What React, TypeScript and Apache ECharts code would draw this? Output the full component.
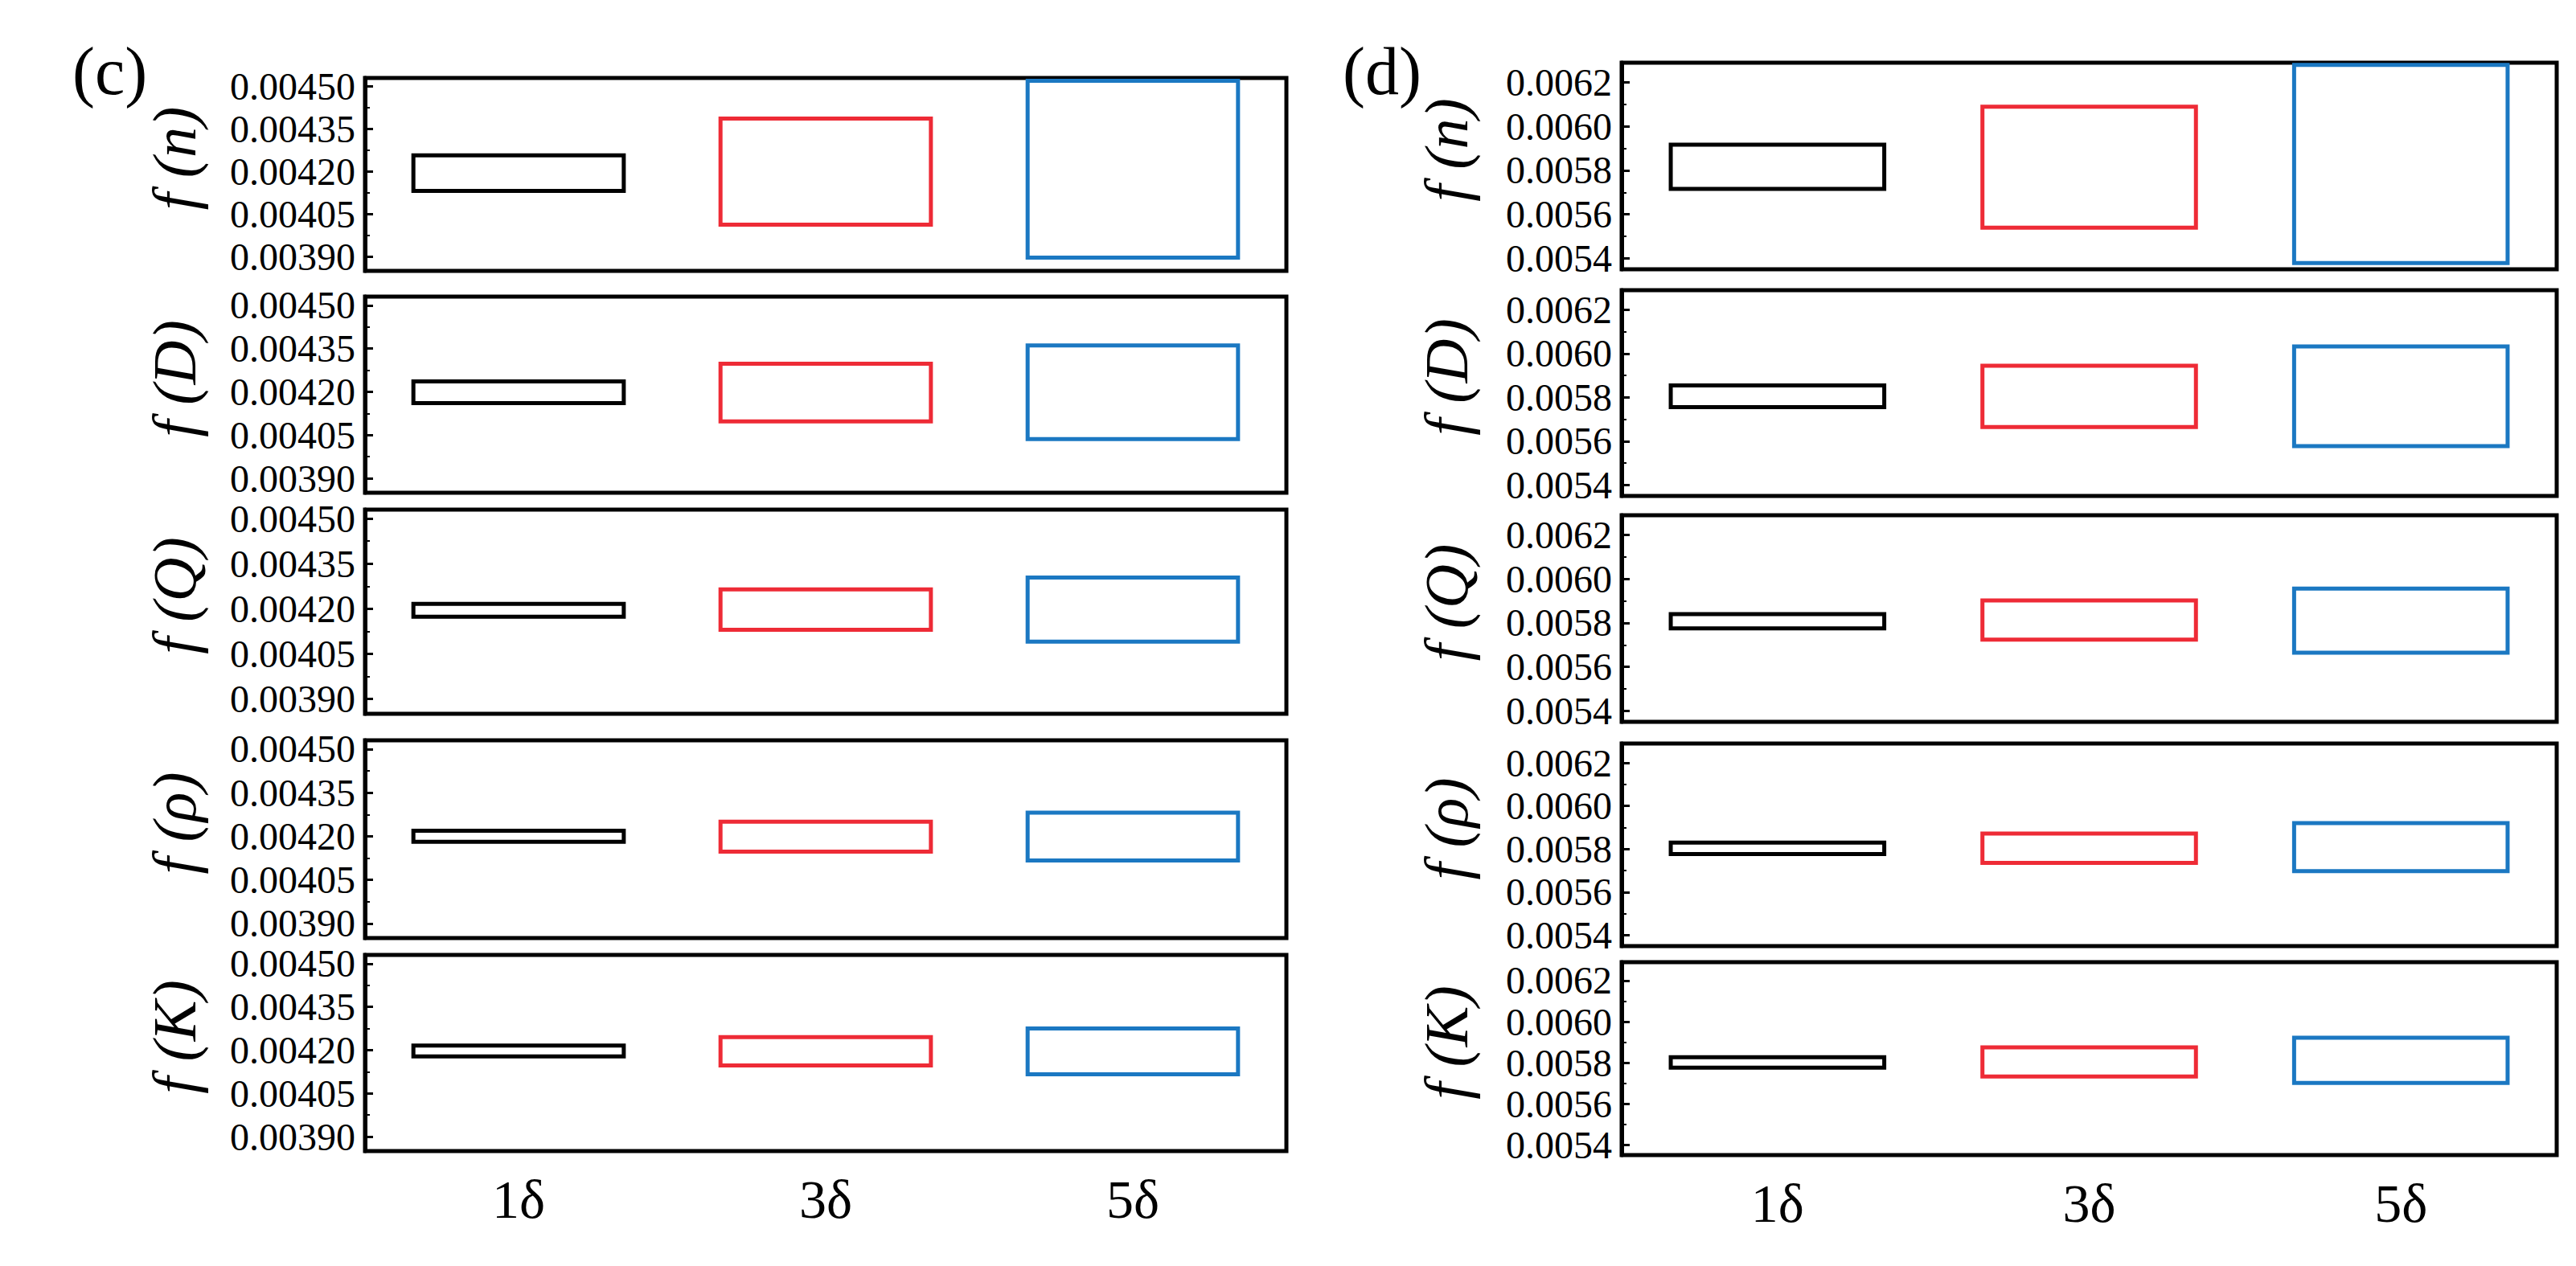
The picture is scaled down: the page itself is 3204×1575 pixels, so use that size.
import React, { useEffect, useRef } from 'react';
import * as echarts from 'echarts';

const categories = ['1δ', '3δ', '5δ'];
const boxColors = ['#000000', '#ee2b36', '#1b78c2'];
const rowSymbols = ['n', 'D', 'Q', 'ρ', 'K'];
const panelLabels = ['(c)', '(d)'];

// y-axis tick labels
const cTickValues = [0.0039, 0.00405, 0.0042, 0.00435, 0.0045];
const cMinorTickValues = [0.003975, 0.004125, 0.004275, 0.004425];
const dTickValues = [0.0054, 0.0056, 0.0058, 0.006, 0.0062];
const dMinorTickValues = [0.0055, 0.0057, 0.0059, 0.0061];
const cRange = [0.00385, 0.00453];
const dRange = [0.00535, 0.00629];

// panel (c): lower / upper bounds per category (1δ, 3δ, 5δ)
const cN_low = [0.004132, 0.004013, 0.003897];
const cN_high = [0.004257, 0.004387, 0.00452];
const cD_low = [0.004161, 0.004097, 0.004036];
const cD_high = [0.004236, 0.004297, 0.004361];
const cQ_low = [0.004173, 0.00413, 0.00409];
const cQ_high = [0.004216, 0.004264, 0.004304];
const cRho_low = [0.004181, 0.004147, 0.004117];
const cRho_high = [0.004219, 0.00425, 0.004281];
const cK_low = [0.004178, 0.004147, 0.004116];
const cK_high = [0.004216, 0.004245, 0.004275];

// panel (d)
const dN_low = [0.005716, 0.005539, 0.005378];
const dN_high = [0.005917, 0.00609, 0.00628];
const dD_low = [0.005756, 0.005665, 0.005578];
const dD_high = [0.005855, 0.005945, 0.006033];
const dQ_low = [0.005775, 0.005724, 0.005665];
const dQ_high = [0.00584, 0.005902, 0.005956];
const dRho_low = [0.005777, 0.005736, 0.005698];
const dRho_high = [0.00583, 0.005872, 0.005921];
const dK_low = [0.005776, 0.005733, 0.005702];
const dK_high = [0.005827, 0.005875, 0.005922];

const cLows = [cN_low, cD_low, cQ_low, cRho_low, cK_low];
const cHighs = [cN_high, cD_high, cQ_high, cRho_high, cK_high];
const dLows = [dN_low, dD_low, dQ_low, dRho_low, dK_low];
const dHighs = [dN_high, dD_high, dQ_high, dRho_high, dK_high];

const FONT = '"Liberation Serif", "Times New Roman", serif';

export default function App() {
  const ref = useRef<HTMLDivElement>(null);

  useEffect(() => {
    if (!ref.current) return;
    const chart = echarts.init(ref.current, null, { renderer: 'svg' });

    const cols = [
      {
        left: 454, width: 1146,
        tops: [97, 369, 634, 921, 1188], heights: [240, 244, 254, 246, 244],
        range: cRange, ticks: cTickValues, minor: cMinorTickValues, digits: 5,
        lows: cLows, highs: cHighs, nameGap: 199,
      },
      {
        left: 2017, width: 1163,
        tops: [78, 361, 641, 925, 1197], heights: [257, 256, 257, 252, 240],
        range: dRange, ticks: dTickValues, minor: dMinorTickValues, digits: 4,
        lows: dLows, highs: dHighs, nameGap: 180,
      },
    ];

    const grid: any[] = [];
    const xAxis: any[] = [];
    const yAxis: any[] = [];
    const series: any[] = [];

    cols.forEach((col) => {
      for (let r = 0; r < 5; r++) {
        const gi = grid.length;
        grid.push({
          left: col.left, top: col.tops[r], width: col.width, height: col.heights[r],
          show: true, borderColor: '#000', borderWidth: 5, backgroundColor: 'transparent',
        });
        const isBottom = r === 4;
        xAxis.push({
          type: 'category', gridIndex: gi, data: categories, boundaryGap: true,
          axisLine: { show: false }, axisTick: { show: false }, splitLine: { show: false },
          axisLabel: {
            show: isBottom, margin: 26, fontSize: 68, color: '#000', fontFamily: FONT,
          },
        });
        const yMain = yAxis.length;
        yAxis.push({
          type: 'value', gridIndex: gi, position: 'left', offset: 0,
          min: col.range[0], max: col.range[1],
          axisLine: { show: true, lineStyle: { color: '#000', width: 5 } },
          axisTick: { show: true, inside: true, length: 10, lineStyle: { color: '#000', width: 3 }, customValues: col.ticks },
          axisLabel: {
            show: true, margin: 12, fontSize: 48, color: '#000', fontFamily: FONT,
            customValues: col.ticks,
            formatter: (v: number) => v.toFixed(col.digits),
          },
          splitLine: { show: false },
          name: `f (${rowSymbols[r]})`,
          nameLocation: 'middle', nameRotate: 90, nameGap: col.nameGap,
          nameTextStyle: {
            fontFamily: FONT, fontSize: 76, fontStyle: 'italic', color: '#000', padding: [0, 0, 0, 40],
          },
        });
        yAxis.push({
          type: 'value', gridIndex: gi, position: 'left', offset: 0,
          min: col.range[0], max: col.range[1],
          axisLine: { show: false },
          axisTick: { show: true, inside: true, length: 6, lineStyle: { color: '#000', width: 2 }, customValues: col.minor },
          axisLabel: { show: false },
          splitLine: { show: false },
        });
        const lows = col.lows[r];
        const highs = col.highs[r];
        series.push({
          type: 'custom', xAxisIndex: gi, yAxisIndex: yMain,
          encode: { x: 0, y: [1, 2] },
          data: categories.map((_, i) => [i, lows[i], highs[i]]),
          renderItem: (params: any, api: any) => {
            const idx = api.value(0);
            const lo = api.value(1);
            const hi = api.value(2);
            const pTop = api.coord([idx, hi]);
            const pBot = api.coord([idx, lo]);
            const bw = api.size([1, 0])[0] * 0.685;
            return {
              type: 'rect',
              shape: { x: pTop[0] - bw / 2, y: pTop[1], width: bw, height: pBot[1] - pTop[1] },
              style: { fill: 'rgba(0,0,0,0)', stroke: boxColors[idx], lineWidth: 5 },
            };
          },
        });
      }
    });

    chart.setOption({
      animation: false,
      backgroundColor: '#fff',
      grid, xAxis, yAxis, series,
      graphic: [
        { type: 'text', left: 90, top: 46, style: { text: panelLabels[0], fontSize: 84, fontFamily: FONT, fill: '#000' } },
        { type: 'text', left: 1670, top: 46, style: { text: panelLabels[1], fontSize: 84, fontFamily: FONT, fill: '#000' } },
      ],
    });

    return () => chart.dispose();
  }, []);

  return <div ref={ref} style={{ position: 'absolute', left: 0, top: 0, width: 3204, height: 1575 }} />;
}
